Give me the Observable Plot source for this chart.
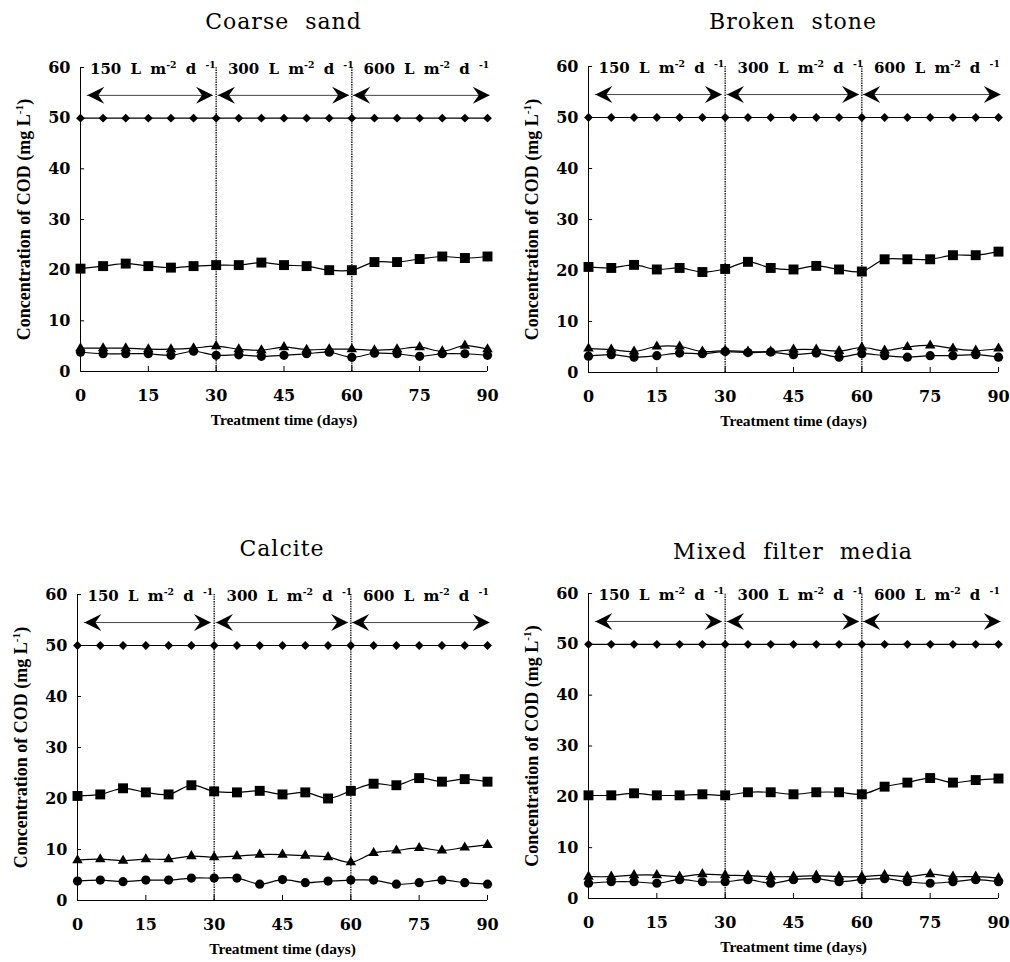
<!DOCTYPE html>
<html><head><meta charset="utf-8">
<script src="https://cdn.jsdelivr.net/npm/d3@7"></script>
<script src="https://cdn.jsdelivr.net/npm/@observablehq/plot@0.6"></script>
<style>
body{margin:0;background:#fff;}
#root{position:relative;width:1010px;height:962px;background:#fff;overflow:hidden}
.title{position:absolute;font-family:"DejaVu Serif";font-size:22px;letter-spacing:1px;word-spacing:8px;white-space:nowrap;transform:translateX(-50%);line-height:22px;color:#000}
.panel{position:absolute}
</style></head><body><div id="root"></div>
<script>
// ---- data ----
const days = [0,5,10,15,20,25,30,35,40,45,50,55,60,65,70,75,80,85,90];
const xTicks = [0,15,30,45,60,75,90];
const yTicks = [0,10,20,30,40,50,60];
const phaseBounds = [30,60];
const rateLabels = ["150 L m^{-2} d ^{-1}", "300 L m^{-2} d ^{-1}", "600 L m^{-2} d ^{-1}"];
const titles = ["Coarse sand", "Broken stone", "Calcite", "Mixed filter media"];
const yLabel = "Concentration of COD (mg L^{-1})";
const xLabel = "Treatment time (days)";

const influent = [50,50,50,50,50,50,50,50,50,50,50,50,50,50,50,50,50,50,50];

const coarseSandSquare   = [20.3,20.8,21.3,20.8,20.5,20.8,21.0,21.0,21.5,21.0,20.8,20.0,20.0,21.6,21.6,22.2,22.7,22.4,22.7];
const coarseSandTriangle = [4.6,4.6,4.6,4.4,4.4,4.6,5.0,4.4,4.2,4.8,4.3,4.4,4.4,4.2,4.4,4.8,4.0,5.1,4.4];
const coarseSandCircle   = [3.8,3.5,3.5,3.5,3.2,4.0,3.2,3.3,3.0,3.2,3.5,3.8,2.8,3.6,3.5,3.0,3.5,3.5,3.2];

const brokenStoneSquare   = [20.7,20.5,21.1,20.2,20.5,19.7,20.3,21.7,20.5,20.2,20.9,20.2,19.8,22.2,22.2,22.2,23.0,23.0,23.7];
const brokenStoneTriangle = [4.7,4.5,4.1,5.1,5.1,4.1,4.3,4.1,4.1,4.5,4.5,4.2,4.9,4.3,5.0,5.3,4.7,4.3,4.7];
const brokenStoneCircle   = [3.2,3.5,3.0,3.3,3.8,3.7,4.1,3.9,4.0,3.5,3.8,3.0,3.7,3.3,3.0,3.3,3.3,3.5,3.0];

const calciteSquare   = [20.5,20.8,22.0,21.2,20.8,22.6,21.4,21.2,21.5,20.8,21.2,20.0,21.5,22.9,22.6,24.0,23.3,23.8,23.3];
const calciteTriangle = [7.9,8.1,7.8,8.1,8.1,8.7,8.5,8.7,9.0,9.0,8.8,8.5,7.5,9.3,9.8,10.3,9.8,10.4,10.9];
const calciteCircle   = [3.8,4.0,3.7,4.0,4.0,4.4,4.4,4.4,3.2,4.1,3.5,3.8,4.0,4.0,3.2,3.5,4.0,3.5,3.2];

const mixedSquare   = [20.3,20.3,20.7,20.3,20.3,20.5,20.3,20.9,20.9,20.5,20.9,20.9,20.5,22.0,22.8,23.7,22.8,23.3,23.6];
const mixedTriangle = [4.3,4.3,4.6,4.6,4.3,4.8,4.6,4.5,4.3,4.3,4.5,4.3,4.3,4.6,4.3,4.8,4.3,4.3,4.0];
const mixedCircle   = [3.0,3.3,3.3,3.0,3.7,3.3,3.3,3.7,3.0,3.7,3.9,3.3,3.7,3.9,3.3,3.0,3.3,3.7,3.3];

// ---- layout ----
const panels = [
  {title: titles[0], square: coarseSandSquare, triangle: coarseSandTriangle, circle: coarseSandCircle, left:0,   top:40,  ml:80, mr:18, mt:27, height:381, titleTop:11},
  {title: titles[1], square: brokenStoneSquare, triangle: brokenStoneTriangle, circle: brokenStoneCircle, left:505, top:40,  ml:83, mr:12, mt:26, height:382, titleTop:11},
  {title: titles[2], square: calciteSquare, triangle: calciteTriangle, circle: calciteCircle, left:0,   top:565, ml:77, mr:18, mt:29, height:385, titleTop:538},
  {title: titles[3], square: mixedSquare, triangle: mixedTriangle, circle: mixedCircle, left:505, top:565, ml:83, mr:12, mt:28, height:383, titleTop:541}
];

const arrowSpans = [[1.5,29.3],[30.4,59.4],[60.3,90.5]];
const arrowY = 54.5;
const labelX = [16, 46.5, 76.5];

const headLeft = {draw(ctx){ ctx.moveTo(0,0); ctx.lineTo(17,-8.5); ctx.lineTo(11,0); ctx.lineTo(17,8.5); ctx.closePath(); }};
const headRight = {draw(ctx){ ctx.moveTo(0,0); ctx.lineTo(-17,-8.5); ctx.lineTo(-11,0); ctx.lineTo(-17,8.5); ctx.closePath(); }};

function superscriptify(svg) {
  d3.select(svg).selectAll("text").each(function() {
    const el = this;
    const txt = el.textContent;
    if (!txt.includes("^{")) return;
    const fs = parseFloat(getComputedStyle(el).fontSize) || 16;
    if (txt.includes("L m")) el.setAttribute("word-spacing", "4");
    while (el.firstChild) el.removeChild(el.firstChild);
    const parts = txt.split(/\^\{([^}]*)\}/);
    let raised = false;
    parts.forEach((p, i) => {
      if (!p) return;
      const ts = document.createElementNS("http://www.w3.org/2000/svg", "tspan");
      if (i % 2 === 1) {
        ts.setAttribute("font-size", (fs * 0.62).toFixed(1));
        if (!raised) ts.setAttribute("dy", (-fs * 0.42).toFixed(1));
        raised = true;
      } else {
        if (raised) ts.setAttribute("dy", (fs * 0.42).toFixed(1));
        raised = false;
      }
      ts.textContent = p;
      el.appendChild(ts);
    });
  });
}

const root = document.getElementById("root");

for (const p of panels) {
  const series = [
    {values: influent,   symbol: "diamond2", r: 4.0},
    {values: p.square,   symbol: "square",   r: 5.6},
    {values: p.triangle, symbol: "triangle", r: 3.9},
    {values: p.circle,   symbol: "circle",   r: 4.6}
  ].map(s => ({...s, rows: days.map((d, i) => ({day: d, value: s.values[i]}))}));

  const heads = arrowSpans.flatMap(([a, b]) => [{x: a, side: "L"}, {x: b, side: "R"}]);

  const marks = [
    // phase separators
    Plot.ruleX(phaseBounds, {y1: 0, y2: 60, stroke: "#111", strokeWidth: 1.4, strokeDasharray: "1.4 1"}),
    // axis lines and inward ticks
    Plot.ruleX([0], {y1: 0, y2: 60, stroke: "black", strokeWidth: 1}),
    Plot.ruleY([0], {x1: 0, x2: 90, stroke: "black", strokeWidth: 1}),
    Plot.ruleX(xTicks, {y1: 0, y2: 1, stroke: "black", strokeWidth: 1}),
    Plot.ruleY(yTicks, {x1: 0, x2: 0.9, stroke: "black", strokeWidth: 1}),
    Plot.axisY({ticks: yTicks, tickSize: 0, tickPadding: 10, label: null, fontSize: 16, fontFamily: "DejaVu Serif", fontWeight: "bold", fill: "black"}),
    Plot.axisX({ticks: xTicks, tickSize: 0, tickPadding: 18, label: null, fontSize: 16, fontFamily: "DejaVu Serif", fontWeight: "bold", fill: "black"}),
    // axis titles
    Plot.text([xLabel], {text: d => d, frameAnchor: "bottom", dy: 49, lineAnchor: "middle", fontSize: 15.5, fontFamily: "Liberation Serif", fontWeight: "bold", fill: "black"}),
    Plot.text([yLabel], {text: d => d, frameAnchor: "left", dx: -56, rotate: -90, lineAnchor: "middle", textAnchor: "middle", fontSize: 18, fontFamily: "Liberation Serif", fontWeight: "bold", fill: "black"}),
    // arrows
    Plot.ruleY(arrowSpans, {x1: d => d[0], x2: d => d[1], y: arrowY, stroke: "#444", strokeWidth: 1}),
    Plot.dot(heads.filter(h => h.side === "L"), {x: "x", y: arrowY, symbol: headLeft, r: 5, fill: "black", stroke: "none"}),
    Plot.dot(heads.filter(h => h.side === "R"), {x: "x", y: arrowY, symbol: headRight, r: 5, fill: "black", stroke: "none"}),
    // rate labels
    Plot.text(rateLabels, {x: (d, i) => labelX[i], y: 59.6, text: d => d, lineAnchor: "middle", fontSize: 15, fontFamily: "DejaVu Serif", fontWeight: "bold", fill: "black"}),
  ];
  for (const s of series) {
    marks.push(Plot.line(s.rows, {x: "day", y: "value", curve: "catmull-rom", stroke: "black", strokeWidth: 1.2}));
  }
  for (const s of series) {
    marks.push(Plot.dot(s.rows, {x: "day", y: "value", symbol: s.symbol, r: s.r, fill: "black", stroke: "none"}));
  }

  const chart = Plot.plot({
    width: 505,
    height: p.height,
    marginLeft: p.ml,
    marginRight: p.mr,
    marginTop: p.mt,
    marginBottom: 50,
    x: {domain: [0, 90]},
    y: {domain: [0, 60]},
    style: {background: "transparent", overflow: "visible", color: "black"},
    marks
  });

  const wrap = document.createElement("div");
  wrap.className = "panel";
  wrap.style.left = p.left + "px";
  wrap.style.top = p.top + "px";
  wrap.appendChild(chart);
  root.appendChild(wrap);
  superscriptify(chart);

  const t = document.createElement("div");
  t.className = "title";
  t.textContent = p.title;
  t.style.left = (p.left + (p.ml + (505 - p.mr)) / 2) + "px";
  t.style.top = p.titleTop + "px";
  root.appendChild(t);
}
</script>
</body></html>
